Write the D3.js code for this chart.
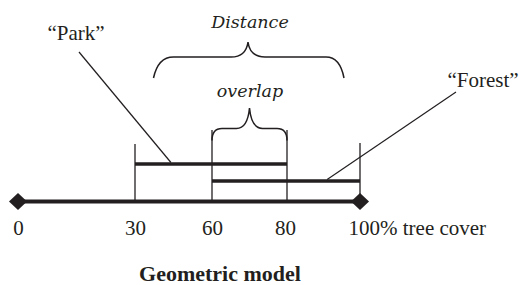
<!DOCTYPE html>
<html>
<head>
<meta charset="utf-8">
<script src="https://cdn.jsdelivr.net/npm/d3@7"></script>
<style>
  html, body { margin: 0; padding: 0; background: #fff; }
  svg { display: block; }
  text { font-family: "Liberation Serif", "Times New Roman", serif; fill: #231f20; }
</style>
</head>
<body>
<script>
// ---- data ----
const tickValues = [0, 30, 60, 80, 100];
const tickLabels = ["0", "30", "60", "80", "100% tree cover"];
const intervalNames = ["“Park”", "“Forest”"];
const intervalStart = [30, 60];
const intervalEnd = [80, 100];
const leaderValue = [44, 91];
const braceLabels = ["Distance", "overlap"];
const braceStart = [30, 60];
const braceEnd = [100, 80];
const title = "Geometric model";

// ---- layout ----
const W = 519, H = 285;
const svg = d3.select("body").append("svg").attr("width", W).attr("height", H);
svg.append("rect").attr("width", W).attr("height", H).attr("fill", "#fff");

// schematic (piecewise) scale for tree cover
const x = d3.scaleLinear().domain(tickValues).range([18, 135, 212, 287, 360]);
const axisY = 201.5;
const ink = "#231f20";

// thin vertical reference lines
const vTop = { 30: 144, 60: 130, 80: 130, 100: 143 };
svg.selectAll("line.v").data(tickValues.filter(v => v > 0)).join("line")
  .attr("x1", d => x(d)).attr("x2", d => x(d))
  .attr("y1", d => vTop[d]).attr("y2", axisY)
  .attr("stroke", ink).attr("stroke-width", 1.3);

// interval bars
const barY = [164, 181];
intervalStart.forEach((s, i) => {
  svg.append("line")
    .attr("x1", x(s)).attr("x2", x(intervalEnd[i]))
    .attr("y1", barY[i]).attr("y2", barY[i])
    .attr("stroke", ink).attr("stroke-width", 3.6);
});

// main axis
const axis = d3.axisBottom(x).tickValues(tickValues).tickSize(0)
  .tickFormat((d, i) => tickLabels[i]).tickPadding(0);
const gAxis = svg.append("g").attr("transform", `translate(0,${axisY})`).call(axis);
gAxis.select(".domain").remove();
gAxis.selectAll(".tick text")
  .attr("font-size", 21).attr("fill", ink)
  .attr("font-family", "Liberation Serif, serif")
  .attr("dy", null).attr("y", 33.5);
gAxis.selectAll(".tick").filter(d => d === 100).select("text")
  .attr("text-anchor", "start").attr("x", -12);
gAxis.selectAll(".tick").filter(d => d === 80).select("text").attr("x", -2);

svg.append("line")
  .attr("x1", x(0)).attr("x2", x(100))
  .attr("y1", axisY).attr("y2", axisY)
  .attr("stroke", ink).attr("stroke-width", 4);

// diamonds at the ends
[0, 100].forEach(v => {
  const cx = x(v);
  svg.append("path")
    .attr("d", `M${cx - 9},${axisY} L${cx},${axisY - 8.5} L${cx + 9},${axisY} L${cx},${axisY + 8.5} Z`)
    .attr("fill", ink);
});

// Distance brace (inset from its interval ends)
(function () {
  const x0 = x(braceStart[0]) + 18.5, x1 = x(braceEnd[0]) - 16;
  const cx = 248, yH = 57;
  svg.append("path")
    .attr("d", `M${x0},78 Q${x0 + 4.5},${yH} ${x0 + 20},${yH} L${cx - 17},${yH} Q${cx - 2},${yH} ${cx},42` +
      ` Q${cx + 2},${yH} ${cx + 17},${yH} L${x1 - 18},${yH} Q${x1 - 4},${yH} ${x1},78`)
    .attr("fill", "none").attr("stroke", ink).attr("stroke-width", 1.5);
})();
// overlap brace
(function () {
  const x0 = x(braceStart[1]), x1 = x(braceEnd[1]);
  const cx = (x0 + x1) / 2, yH = 128.5;
  svg.append("path")
    .attr("d", `M${x0},${yH + 12} Q${x0},${yH} ${x0 + 10},${yH} L${cx - 13},${yH} Q${cx - 2},${yH} ${cx},108` +
      ` Q${cx + 2},${yH} ${cx + 13},${yH} L${x1 - 10},${yH} Q${x1},${yH} ${x1},${yH + 12}`)
    .attr("fill", "none").attr("stroke", ink).attr("stroke-width", 1.5);
})();

svg.append("text").attr("x", 250).attr("y", 28).attr("text-anchor", "middle")
  .attr("font-size", 17.5).attr("font-style", "italic")
  .style("font-family", "'DejaVu Serif', serif").text(braceLabels[0]);
svg.append("text").attr("x", 250).attr("y", 97).attr("text-anchor", "middle")
  .attr("font-size", 17.5).attr("font-style", "italic")
  .style("font-family", "'DejaVu Serif', serif").text(braceLabels[1]);

// interval name labels and leaders
const labelPos = [[76, 40], [483, 87]];
const leaderStart = [[79, 52], [456, 92]];
intervalNames.forEach((n, i) => {
  svg.append("text").attr("x", labelPos[i][0]).attr("y", labelPos[i][1])
    .attr("text-anchor", "middle").attr("font-size", 21).text(n);
  svg.append("line")
    .attr("x1", leaderStart[i][0]).attr("y1", leaderStart[i][1])
    .attr("x2", x(leaderValue[i])).attr("y2", barY[i] - 1.5)
    .attr("stroke", ink).attr("stroke-width", 1.2);
});

// title
svg.append("text").attr("x", 220).attr("y", 281).attr("text-anchor", "middle")
  .attr("font-size", 22).attr("font-weight", "bold").text(title);
</script>
</body>
</html>
